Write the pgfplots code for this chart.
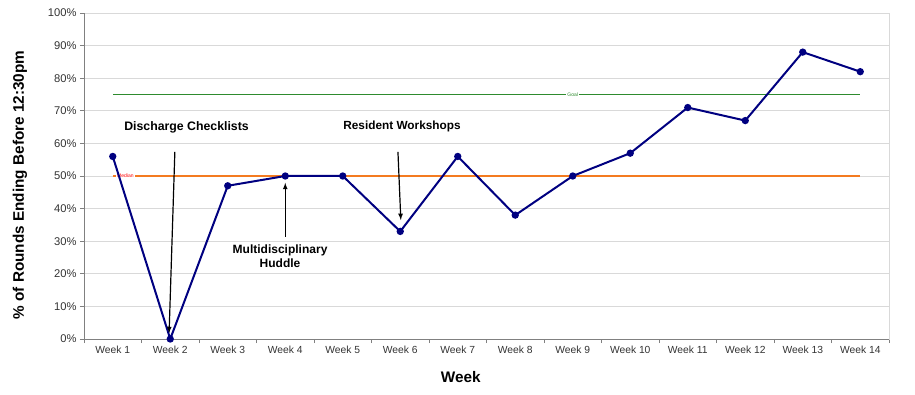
\documentclass[border=0pt]{standalone}
\usepackage{fontspec}
\setmainfont{Liberation Sans}
\usepackage{pgfplots}
\pgfplotsset{compat=1.18}
\definecolor{navyline}{HTML}{000080}
\definecolor{medorange}{HTML}{F47B20}
\definecolor{goalgreen}{HTML}{2E8B2E}
\definecolor{gridgray}{HTML}{D9D9D9}
\definecolor{axgray}{HTML}{808080}
\definecolor{tickgray}{HTML}{333333}
\begin{document}
\begin{tikzpicture}[x=1pt,y=1pt]
\useasboundingbox (0,0) rectangle (915,394);
\begin{axis}[
  at={(84pt,55pt)}, anchor=south west,
  scale only axis, width=805pt, height=326pt,
  xmin=0.5, xmax=14.5, ymin=0, ymax=100,
  axis line style={draw=gridgray, line width=0.8pt},
  tick pos=left, tick align=outside,
  major tick length=4pt,
  tick style={axgray, line width=0.8pt},
  xtick={0.5,1.5,...,14.5}, xticklabels={},
  extra x ticks={1,2,...,14},
  extra x tick labels={Week 1,Week 2,Week 3,Week 4,Week 5,Week 6,Week 7,Week 8,Week 9,Week 10,Week 11,Week 12,Week 13,Week 14},
  extra x tick style={major tick length=0pt, tick label style={font=\fontsize{10.3}{12}\selectfont, text=tickgray, yshift=-4pt}},
  ytick={0,10,...,100},
  yticklabels={0\%,10\%,20\%,30\%,40\%,50\%,60\%,70\%,80\%,90\%,100\%},
  yticklabel style={font=\fontsize{11.2}{13}\selectfont, text=tickgray},
  ymajorgrids, grid style={gridgray, line width=0.8pt},
  ylabel={\% of Rounds Ending Before 12:30pm},
  ylabel style={at={(rel axis cs:0,0.5)}, yshift=64pt, xshift=-9pt, anchor=center, font=\bfseries\fontsize{15.3}{17}\selectfont},
  xlabel={Week},
  xlabel style={at={(rel axis cs:0.468,0)}, yshift=-38pt, anchor=center, font=\bfseries\fontsize{15.3}{17}\selectfont},
  clip=false,
]
\draw[axgray, line width=0.8pt] (rel axis cs:0,0) -- (rel axis cs:0,1);
\draw[axgray, line width=0.8pt] (rel axis cs:0,0) -- (rel axis cs:1,0);
% goal and median
\addplot[goalgreen, line width=1.4pt, forget plot] coordinates {(1,75) (14,75)};
\addplot[medorange, line width=1.4pt, forget plot] coordinates {(1,50) (14,50)};
\node[fill=white, inner sep=1pt, text=goalgreen, font=\fontsize{5}{6}\selectfont] at (axis cs:9,75) {Goal};
\node[fill=white, inner sep=1pt, text=red, font=\fontsize{5}{6}\selectfont] at (axis cs:1.22,50) {Median};
% data
\addplot[navyline, line width=2pt, mark=*, mark size=2.6pt, mark options={fill=navyline, draw=navyline}] coordinates {
(1,56) (2,0) (3,47) (4,50) (5,50) (6,33) (7,56) (8,38) (9,50) (10,57) (11,71) (12,67) (13,88) (14,82)};
% annotations
\node[anchor=west, font=\bfseries\fontsize{12.3}{14}\selectfont] at (axis cs:1.14,65) {Discharge Checklists};
\draw[-latex, line width=1.2pt] (axis cs:2.08,57.4) -- (axis cs:1.98,1.8);
\node[anchor=west, font=\bfseries\fontsize{11.8}{14}\selectfont] at (axis cs:4.95,65.3) {Resident Workshops};
\draw[-latex, line width=1.2pt] (axis cs:5.96,57.4) -- (axis cs:6.01,36.5);
\node[align=center, font=\bfseries\fontsize{12}{14}\selectfont] at (axis cs:3.91,25.5) {Multidisciplinary\\Huddle};
\draw[-latex, line width=1.2pt] (axis cs:4,31.3) -- (axis cs:4,47.9);
\end{axis}
\end{tikzpicture}
\end{document}
